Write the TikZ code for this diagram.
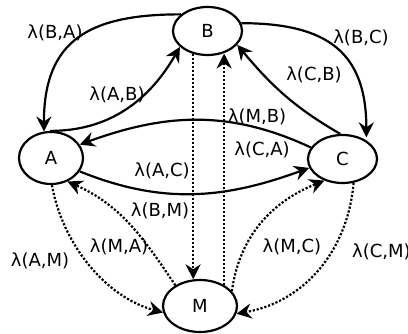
\documentclass[tikz,border=0pt]{standalone}
\usepackage{fontspec}
\setmainfont{DejaVu Sans}
\usetikzlibrary{arrows.meta,shapes.geometric}
\begin{document}
\begin{tikzpicture}[x=1pt,y=1pt,
  state/.style={draw,ellipse,line width=2.2pt,inner sep=0pt,
    font=\fontsize{18}{20}\selectfont},
  lab/.style={inner sep=0pt,font=\fontsize{18}{20}\selectfont},
  rate/.style={line width=2.2pt,-{Stealth[length=15pt,width=15pt,inset=5pt]}},
  jump/.style={rate,dash pattern=on 2.2pt off 1.8pt}]
\useasboundingbox (0,0) rectangle (408,334);

% states
\node[state,minimum width=64pt,minimum height=52pt] (A) at (51,176) {A};
\node[state,minimum width=69pt,minimum height=48pt] (B) at (207.5,303) {B};
\node[state,minimum width=69pt,minimum height=48pt] (C) at (342.5,175) {C};
\node[state,minimum width=74pt,minimum height=52pt] (M) at (200,28) {M};

% solid transitions between A, B and C
\draw[rate] (B.148) to[out=180,in=90,looseness=1.3] (A.105);
\draw[rate] (A.92) to[out=0,in=240] (B.210);
\draw[rate,shorten >=3pt] (B.13) to[out=0,in=90,looseness=1.3] (C.38);
\draw[rate] (C.95) to[out=150,in=-50] (B.-25);
\draw[rate] (C.160) to[out=155,in=20] (A.25);
\draw[rate] (A.-25) to[out=-22,in=200] (C.195);

% dotted transitions to and from M
\draw[jump] (B.238.6) -- (B.238.6 |- M.103.3);
\draw[jump] (M.41.6) -- (M.41.6 |- B.305.9);
\draw[jump] (A.-88) to[out=-80,in=165,looseness=0.9] (M.190);
\draw[jump] (M.140) to[out=124,in=-24] (A.-55);
\draw[jump] (M.25) to[out=82,in=202] (C.230);
\draw[jump] (C.-65) to[out=-95,in=10] (M.-12);

% rates
\node[lab] (lBA) at (55,301) {λ(B,A)};
\node[lab] (lAB) at (117,239) {λ(A,B)};
\node[lab] (lBC) at (361,296) {λ(B,C)};
\node[lab] (lCB) at (314,259) {λ(C,B)};
\node[lab] (lMB) at (257,217) {λ(M,B)};
\node[lab] (lCA) at (262,184) {λ(C,A)};
\node[lab] (lAC) at (162,163) {λ(A,C)};
\node[lab] (lBM) at (160,123) {λ(B,M)};
\node[lab] (lMA) at (119,87) {λ(M,A)};
\node[lab] (lAM) at (40,73) {λ(A,M)};
\node[lab] (lMC) at (292,87) {λ(M,C)};
\node[lab,anchor=west] (lCM) at (352,82) {λ(C,M)};
\end{tikzpicture}
\end{document}
